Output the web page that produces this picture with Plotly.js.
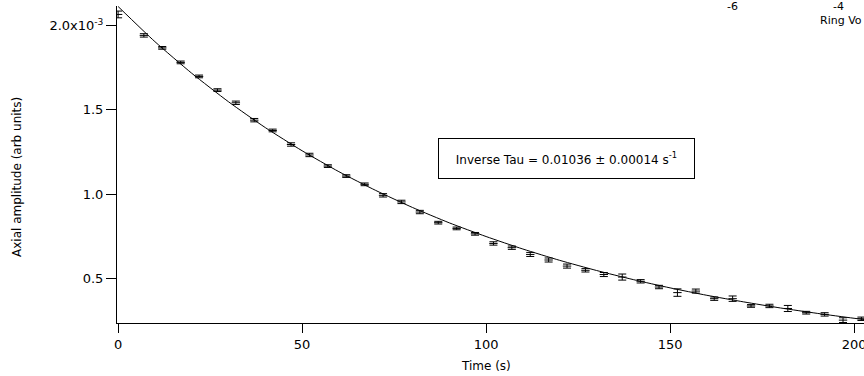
<!DOCTYPE html>
<html>
<head>
<meta charset="utf-8">
<script src="https://cdn.plot.ly/plotly-3.0.1.min.js"></script>
<style>
html,body{margin:0;padding:0;background:#fff;overflow:hidden;}
#chart{width:864px;height:376px;}
</style>
</head>
<body>
<div id="chart"></div>
<script>
// Measured decay (amplitude in units of 1e-3, arb units)
const timeS = [0, 7, 12, 17, 22, 27, 32, 37, 42, 47, 52, 57, 62, 67, 72, 77, 82, 87, 92, 97,
  102, 107, 112, 117, 122, 127, 132, 137, 142, 147, 152, 157, 162, 167, 172, 177, 182, 187, 192, 197, 202];
const amplitude = [2.065, 1.941, 1.867, 1.781, 1.698, 1.617, 1.542, 1.439, 1.378, 1.295,
  1.233, 1.167, 1.108, 1.059, 0.994, 0.955, 0.895, 0.832, 0.798, 0.766,
  0.709, 0.684, 0.644, 0.611, 0.575, 0.550, 0.525, 0.510, 0.485, 0.451,
  0.418, 0.427, 0.382, 0.382, 0.339, 0.339, 0.324, 0.299, 0.289, 0.255, 0.263];
const amplitudeErr = [0.020, 0.010, 0.008, 0.008, 0.008, 0.008, 0.010, 0.010, 0.008, 0.010,
  0.010, 0.008, 0.008, 0.008, 0.010, 0.010, 0.010, 0.008, 0.008, 0.008,
  0.010, 0.010, 0.012, 0.012, 0.012, 0.010, 0.012, 0.018, 0.010, 0.010,
  0.022, 0.012, 0.010, 0.016, 0.008, 0.010, 0.018, 0.008, 0.010, 0.014, 0.010];

// Fitted curve
const fitTime = [0, 10, 20, 30, 40, 50, 60, 70, 80, 90, 100, 110, 120, 130, 140, 150, 160, 170, 180, 190, 200, 210];
const fitAmplitude = [2.112, 1.904, 1.717, 1.548, 1.395, 1.258, 1.134, 1.023, 0.922, 0.831, 0.750,
  0.676, 0.609, 0.549, 0.495, 0.446, 0.402, 0.363, 0.327, 0.295, 0.266, 0.240];

const yTickVals = [0.5, 1.0, 1.5, 2.0];
const yTickText = ['0.5', '1.0', '1.5', '2.0x10<sup>-3</sup>'];
const xTickVals = [0, 50, 100, 150, 200];
const xTickText = ['0', '50', '100', '150', '200'];

const fontFam = 'DejaVu Sans, Liberation Sans, sans-serif';

const traces = [
  {
    x: fitTime, y: fitAmplitude, type: 'scatter', mode: 'lines',
    line: {color: '#000', width: 1, shape: 'spline', smoothing: 0.6},
    hoverinfo: 'skip', showlegend: false
  },
  {
    x: timeS, y: amplitude, type: 'scatter', mode: 'markers',
    marker: {symbol: 'line-ew', size: 6, color: '#000', line: {color: '#000', width: 1}},
    error_y: {type: 'data', array: amplitudeErr, visible: true, color: '#000', thickness: 1, width: 4},
    showlegend: false
  }
];

const layout = {
  width: 864, height: 376,
  margin: {l: 117, r: 0, t: 6, b: 53, pad: 0},
  paper_bgcolor: '#fff', plot_bgcolor: '#fff',
  font: {family: fontFam, size: 12, color: '#000'},
  showlegend: false,
  xaxis: {
    range: [-0.3, 202.7], showgrid: false, zeroline: false,
    showline: true, linecolor: '#000', linewidth: 1,
    ticks: 'outside', ticklen: 9, tickwidth: 1, tickcolor: '#000',
    tickvals: xTickVals, ticktext: xTickText,
    tickfont: {family: fontFam, size: 13, color: '#000'},
    ticklabeloverflow: 'allow',
    automargin: false
  },
  yaxis: {
    range: [0.238, 2.115], showgrid: false, zeroline: false,
    showline: true, linecolor: '#000', linewidth: 1,
    ticks: 'outside', ticklen: 10, tickwidth: 1, tickcolor: '#000',
    tickvals: yTickVals, ticktext: yTickText,
    tickfont: {family: fontFam, size: 13, color: '#000'},
    automargin: false
  },
  annotations: [
    {
      text: 'Inverse Tau = 0.01036 ± 0.00014 s<sup>-1</sup>',
      xref: 'paper', yref: 'paper', x: 0.6017, y: 0.5183,
      xanchor: 'center', yanchor: 'middle', showarrow: false,
      font: {family: fontFam, size: 12, color: '#000'},
      bordercolor: '#000', borderwidth: 1, borderpad: 2, bgcolor: '#fff',
      width: 251, height: 35
    },
    {
      text: 'Axial amplitude (arb units)', textangle: -90,
      xref: 'paper', yref: 'paper', x: -0.1339, y: 0.4606,
      xanchor: 'center', yanchor: 'middle', showarrow: false,
      font: {family: fontFam, size: 12, color: '#000'}
    },
    {
      text: 'Time (s)',
      xref: 'x', yref: 'paper', x: 100, y: -0.1356,
      xanchor: 'center', yanchor: 'middle', showarrow: false,
      font: {family: fontFam, size: 12, color: '#000'}
    },
    {
      text: '-6', xref: 'paper', yref: 'paper', x: 0.8246, y: 1.0,
      xanchor: 'center', yanchor: 'middle', showarrow: false,
      font: {family: fontFam, size: 11, color: '#000'}
    },
    {
      text: '-4', xref: 'paper', yref: 'paper', x: 0.9652, y: 1.0,
      xanchor: 'center', yanchor: 'middle', showarrow: false,
      font: {family: fontFam, size: 11, color: '#000'}
    },
    {
      text: 'Ring Vo', xref: 'paper', yref: 'paper', x: 0.9384, y: 0.9527,
      xanchor: 'left', yanchor: 'middle', showarrow: false,
      font: {family: fontFam, size: 11, color: '#000'}
    }
  ]
};

Plotly.newPlot('chart', traces, layout, {staticPlot: true, displayModeBar: false});
</script>
</body>
</html>
